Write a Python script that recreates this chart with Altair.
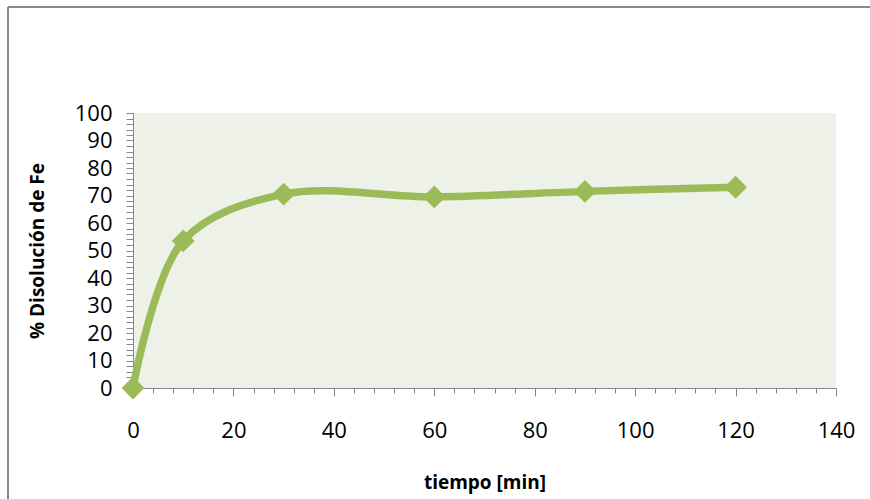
import altair as alt
import pandas as pd

# data
tiempo = [0, 10, 30, 60, 90, 120]
disolucion = [0, 53.5, 70.5, 69.5, 71.5, 73]

x_ticks = list(range(0, 141, 4))
y_ticks = list(range(0, 101, 2))

df = pd.DataFrame({"tiempo": tiempo, "disolucion": disolucion})

FONT = "Open Sans"
GREEN = "#9bbb59"
GRAY = "#868686"

x_enc = alt.X(
    "tiempo:Q",
    scale=alt.Scale(domain=[0, 140], nice=False, zero=False),
    axis=alt.Axis(
        title="tiempo [min]",
        values=x_ticks,
        labelExpr="datum.value % 20 === 0 ? datum.label : ''",
        labelOverlap=False,
        labelFlush=False,
        grid=False,
        domainColor=GRAY,
        tickColor=GRAY,
        tickSize={"condition": {"test": "datum.value % 20 === 0", "value": 8}, "value": 5},
        labelFont=FONT,
        labelFontSize=22,
        labelColor="#000000",
        labelPadding=24,
        titleFont=FONT,
        titleFontSize=19,
        titleFontWeight="bold",
        titleColor="#000000",
        titlePadding=32,
    ),
)
y_enc = alt.Y(
    "disolucion:Q",
    scale=alt.Scale(domain=[0, 100], nice=False),
    axis=alt.Axis(
        title="% Disolución de Fe",
        values=y_ticks,
        labelExpr="datum.value % 10 === 0 ? datum.label : ''",
        labelOverlap=False,
        labelFlush=False,
        grid=False,
        domainColor=GRAY,
        tickColor=GRAY,
        tickSize=7,
        labelFont=FONT,
        labelFontSize=22,
        labelColor="#000000",
        labelPadding=14,
        titleFont=FONT,
        titleFontSize=19,
        titleFontWeight="bold",
        titleColor="#000000",
        titlePadding=27,
    ),
)

base = alt.Chart(df).encode(x=x_enc, y=y_enc)
line = base.mark_line(color=GREEN, strokeWidth=7.5, interpolate="catmull-rom", clip=False)
points = base.mark_point(shape="diamond", filled=True, color=GREEN, size=520, opacity=1, clip=False)

frame_data = alt.Data(values=[{"k": 1}])
left_border = alt.Chart(frame_data).mark_rule(color="#8a8a8a", strokeWidth=2).encode(
    x=alt.value(-125), y=alt.value(-106), y2=alt.value(400)
)
top_border = alt.Chart(frame_data).mark_rule(color="#8a8a8a", strokeWidth=2).encode(
    y=alt.value(-106), x=alt.value(-125), x2=alt.value(800)
)

chart = (
    alt.layer(line, points, left_border, top_border)
    .properties(
        width=703,
        height=275,
        autosize=alt.AutoSizeParams(type="none"),
        padding={"left": 133, "top": 113, "right": 34, "bottom": 111},
        background="#ffffff",
    )
    .configure_view(fill="#eef1e8", stroke=None)
)

chart.save("out.html", embed_options={"renderer": "svg", "actions": False})
